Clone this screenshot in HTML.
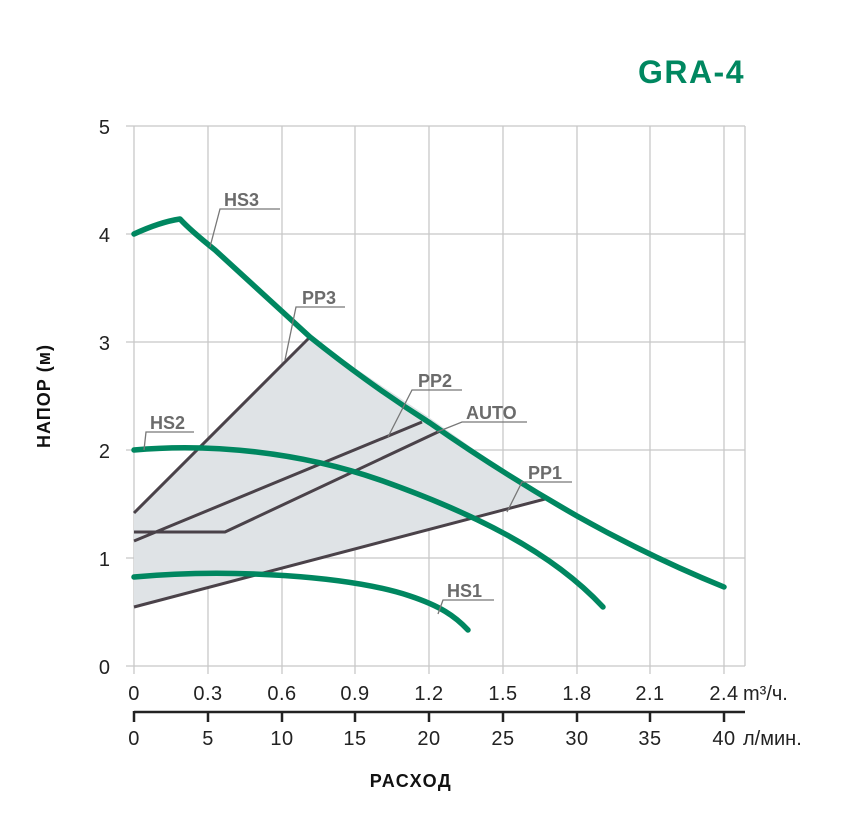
<!DOCTYPE html>
<html><head><meta charset="utf-8"><style>body{margin:0;background:#fff}svg{display:block}text{font-family:"Liberation Sans",sans-serif}</style></head><body>
<svg width="841" height="828" viewBox="0 0 841 828" xmlns="http://www.w3.org/2000/svg">
<text x="745" y="83" text-anchor="end" font-size="32" font-weight="bold" fill="#008760" letter-spacing="1.5">GRA-4</text>
<g stroke="#c8c8c8" stroke-width="1.3">
<line x1="134" y1="126" x2="134" y2="674"/><line x1="208" y1="126" x2="208" y2="674"/><line x1="282" y1="126" x2="282" y2="674"/><line x1="355" y1="126" x2="355" y2="674"/><line x1="429" y1="126" x2="429" y2="674"/><line x1="503" y1="126" x2="503" y2="674"/><line x1="577" y1="126" x2="577" y2="674"/><line x1="650" y1="126" x2="650" y2="674"/><line x1="724" y1="126" x2="724" y2="674"/><line x1="745" y1="126" x2="745" y2="666"/>
<line x1="126" y1="126" x2="745" y2="126"/><line x1="126" y1="234" x2="745" y2="234"/><line x1="126" y1="342" x2="745" y2="342"/><line x1="126" y1="450" x2="745" y2="450"/><line x1="126" y1="558" x2="745" y2="558"/><line x1="126" y1="666" x2="745" y2="666"/>
</g>
<g font-size="20" fill="#222" text-anchor="end"><text x="110" y="134">5</text><text x="110" y="242">4</text><text x="110" y="350">3</text><text x="110" y="458">2</text><text x="110" y="566">1</text><text x="110" y="674">0</text></g>
<g font-size="20" fill="#222" text-anchor="middle" letter-spacing="0.5"><text x="134" y="700">0</text><text x="208" y="700">0.3</text><text x="282" y="700">0.6</text><text x="355" y="700">0.9</text><text x="429" y="700">1.2</text><text x="503" y="700">1.5</text><text x="577" y="700">1.8</text><text x="650" y="700">2.1</text><text x="724" y="700">2.4</text>
<text x="134" y="745">0</text><text x="208" y="745">5</text><text x="282" y="745">10</text><text x="355" y="745">15</text><text x="429" y="745">20</text><text x="503" y="745">25</text><text x="577" y="745">30</text><text x="650" y="745">35</text><text x="724" y="745">40</text></g>
<text x="743" y="700" font-size="20" fill="#222">m³/ч.</text>
<text x="743" y="745" font-size="20" fill="#222">л/мин.</text>
<g stroke="#222" stroke-width="2.5"><line x1="134" y1="712" x2="745" y2="712"/><line x1="134" y1="711" x2="134" y2="722"/><line x1="208" y1="711" x2="208" y2="722"/><line x1="282" y1="711" x2="282" y2="722"/><line x1="355" y1="711" x2="355" y2="722"/><line x1="429" y1="711" x2="429" y2="722"/><line x1="503" y1="711" x2="503" y2="722"/><line x1="577" y1="711" x2="577" y2="722"/><line x1="650" y1="711" x2="650" y2="722"/><line x1="724" y1="711" x2="724" y2="722"/></g>
<text x="411" y="787" text-anchor="middle" font-size="18" font-weight="bold" fill="#111" letter-spacing="1.5">РАСХОД</text>
<text transform="translate(50,396) rotate(-90)" text-anchor="middle" font-size="18" font-weight="bold" fill="#111" letter-spacing="1">НАПОР (м)</text>
<polygon points="134,513 310,337 355,368 430,418 503,470 545,497 134,607" fill="#dfe3e6"/>
<g stroke="#4a4249" stroke-width="3" fill="none">
<line x1="134" y1="513" x2="310" y2="337"/><line x1="134" y1="541" x2="422" y2="422"/><polyline points="134,532 225,532 440,431"/><line x1="134" y1="607" x2="545" y2="499"/></g>
<g stroke="#008760" stroke-width="5.5" fill="none" stroke-linecap="round" stroke-linejoin="round">
<path d="M134,234 Q160,222 180,219 Q190,230 215,250 L310,337 Q370,385 430,423 Q500,472 577,516 Q650,557 724,587"/>
<path d="M134,450 C210,443 300,452 380,480 C470,512 550,550 603,607"/>
<path d="M134,577 C230,568 350,576 410,596 C440,606 455,616 468,630"/></g>
<g stroke="#777" stroke-width="1.3" fill="none">
<polyline points="210,247 220,209 280,209"/><polyline points="285,360 296,307 345,307"/><polyline points="388,437 412,390 462,390"/><polyline points="437,432 462,422 527,422"/><polyline points="507,512 522,482 572,482"/><polyline points="144,450 146,432 194,432"/><polyline points="438,614 443,600 494,600"/></g>
<g font-size="18" font-weight="bold" fill="#6b6b6b"><text x="224" y="206">HS3</text><text x="302" y="304">PP3</text><text x="418" y="387">PP2</text><text x="466" y="419">AUTO</text><text x="528" y="479">PP1</text><text x="150" y="429">HS2</text><text x="447" y="597">HS1</text></g>
</svg></body></html>
